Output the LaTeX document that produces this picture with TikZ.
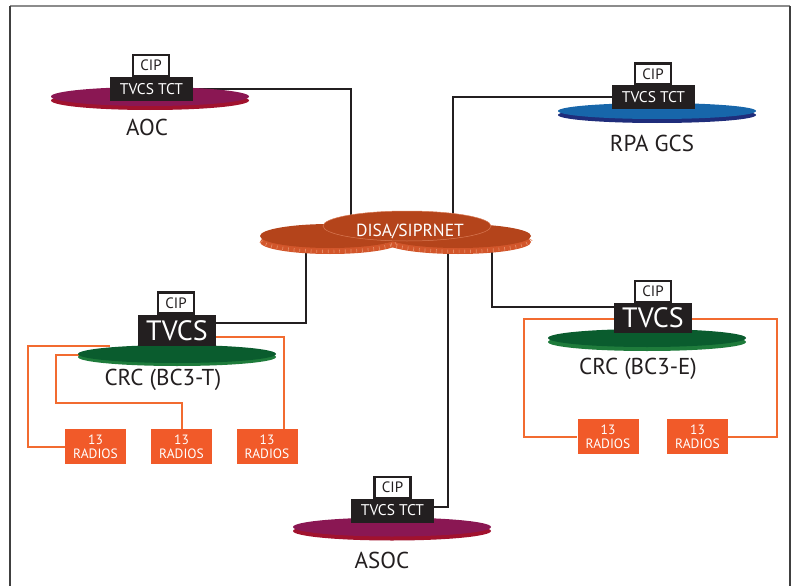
\documentclass[tikz,border=0pt]{standalone}
\usepackage{fontspec}
\setmainfont{PT Sans}
\usetikzlibrary{shapes.geometric}
\definecolor{ink}{HTML}{231F20}
\definecolor{aoctop}{HTML}{8A1753}
\definecolor{aocrim}{HTML}{A1122E}
\definecolor{rpatop}{HTML}{1766AA}
\definecolor{rparim}{HTML}{1F2D7B}
\definecolor{crctop}{HTML}{0A5C2E}
\definecolor{crcrim}{HTML}{1E7B3B}
\definecolor{cloudtop}{HTML}{B4441B}
\definecolor{cloudrim}{HTML}{D2562B}
\definecolor{cloudtick}{HTML}{E58A64}
\definecolor{cloudedge}{HTML}{D97A55}
\definecolor{radio}{HTML}{F15A29}
\definecolor{radioline}{HTML}{F26B30}
\pgfdeclarelayer{bg}
\pgfsetlayers{bg,main}
\tikzset{
 disk/.style={ellipse, minimum width=198pt, minimum height=18pt, inner sep=0pt},
 cipbox/.style={draw=ink, line width=2.5pt, fill=white, minimum width=36pt, minimum height=21pt, inner sep=0pt, font=\fontsize{15}{15}\selectfont, text=ink},
 tctbox/.style={fill=ink, text=white, minimum width=83pt, minimum height=24pt, inner sep=0pt, font=\fontsize{15.5}{15.5}\selectfont},
 tvcsbox/.style={fill=ink, text=white, minimum width=78pt, minimum height=31pt, inner sep=0pt, font=\fontsize{28}{28}\selectfont},
 radiobox/.style={fill=radio, text=white, minimum width=61pt, minimum height=35pt, inner sep=0pt, align=center, font=\fontsize{13.5}{14}\selectfont},
 lbl/.style={text=ink, font=\fontsize{23}{23}\selectfont, inner sep=0pt},
 net/.style={draw=ink, line width=2pt},
 rline/.style={draw=radioline, line width=2pt},
}
\begin{document}
\begin{tikzpicture}[x=1pt,y=-1pt]
\useasboundingbox (0,0) rectangle (793,586);
% frame
\draw[line width=1.5pt, draw=black!45] (10,6) -- (790,6);
\draw[line width=1.5pt, draw=black!75] (10,586) -- (10,6);
\draw[line width=1.5pt, draw=black!75] (790,6) -- (790,586);

% ---- cloud
\fill[cloudrim] (330,242) ellipse (70 and 12);
\fill[cloudrim] (458,242) ellipse (73 and 12);
\draw[cloudtick, line width=3.5pt, dash pattern=on 0.7pt off 5pt] (400,239.5) arc (0:180:70 and 12);
\draw[cloudtick, line width=3.5pt, dash pattern=on 0.7pt off 5pt] (531,239.5) arc (0:180:73 and 12);
\fill[cloudtop] (330,236) ellipse (70 and 12);
\fill[cloudtop] (458,236) ellipse (73 and 12);
\node[ellipse, minimum width=168pt, minimum height=30pt, inner sep=0pt, fill=cloudtop, draw=cloudedge, line width=0.5pt] (cloud) at (407,226) {};
\node[text=white, font=\fontsize{17.5}{17.5}\selectfont, inner sep=0pt] (cloudtxt) at (410,231) {DISA/SIPRNET};

% ---- AOC
\fill[aocrim] (150,100.5) ellipse (99 and 9.5);
\node[disk, minimum height=19pt, fill=aoctop] (aocdisk) at (150,96.5) {};
\node[tctbox] (aoctct) at (151.5,89) {TVCS TCT};
\node[cipbox] (aoccip) at (151,65.5) {CIP};
\node[lbl] (aoclbl) at (147,127) {AOC};

% ---- RPA GCS
\fill[rparim] (657,115) ellipse (99 and 8);
\node[disk, minimum height=16pt, fill=rpatop] (rpadisk) at (657,111) {};
\node[tctbox] (rpatct) at (653.5,97) {TVCS TCT};
\node[cipbox] (rpacip) at (653,74) {CIP};
\node[lbl] (rpalbl) at (652,143) {RPA GCS};

% ---- CRC (BC3-T)
\fill[crcrim] (177,357) ellipse (99 and 9);
\node[disk, fill=crctop] (crcTdisk) at (177,354) {};
\node[tvcsbox] (crcTtvcs) at (177,330.5) {TVCS};
\node[cipbox] (crcTcip) at (176,303) {CIP};
\node[lbl] (crcTlbl) at (163,380) {CRC (BC3-T)};
\node[radiobox] (r1) at (95.5,446.5) {13\\RADIOS};
\node[radiobox] (r2) at (181.5,446.5) {13\\RADIOS};
\node[radiobox] (r3) at (267,446.5) {13\\RADIOS};

% ---- CRC (BC3-E)
\fill[crcrim] (647,342) ellipse (99 and 9);
\node[disk, fill=crctop] (crcEdisk) at (647,338) {};
\node[tvcsbox, minimum height=30pt] (crcEtvcs) at (653,318) {TVCS};
\node[cipbox] (crcEcip) at (653,291.5) {CIP};
\node[lbl] (crcElbl) at (638,369) {CRC (BC3-E)};
\node[radiobox] (r4) at (608,436.5) {13\\RADIOS};
\node[radiobox] (r5) at (697.5,436.5) {13\\RADIOS};

% ---- ASOC
\fill[aocrim] (392,531) ellipse (99 and 9.5);
\node[disk, minimum height=19pt, fill=aoctop] (asocdisk) at (392,527) {};
\node[tctbox] (asoctct) at (392.5,510.5) {TVCS TCT};
\node[cipbox] (asoccip) at (392.5,487.5) {CIP};
\node[lbl] (asoclbl) at (382,560) {ASOC};

% ---- connector ends hidden behind shapes
\coordinate (caoc) at (351,232);
\coordinate (crpa) at (453,232);
\coordinate (ccrcT) at (306,240);
\coordinate (ccrcE) at (492,240);
\coordinate (casoc) at (448,240);
\coordinate (crcTa) at (110,346);
\coordinate (crcTb) at (90,355);

\begin{pgfonlayer}{bg}
\draw[net] (aoctct.east) -| (caoc);
\draw[net] (rpatct.west) -| (crpa);
\draw[net] ([yshift=8pt]crcTtvcs.east) -| (ccrcT);
\draw[net] ([yshift=11pt]crcEtvcs.west) -| (ccrcE);
\draw[net] ([yshift=4pt]asoctct.east) -| (casoc);
\draw[rline] (crcTa) -- (28,346) |- (r1.west);
\draw[rline] (crcTb) -- (56,355) -- (56,403) -| (r2.north);
\draw[rline] ([yshift=-6pt]crcTtvcs.east) -| ([xshift=17pt]r3.north);
\draw[rline] ([yshift=-1pt]crcEtvcs.west) -- (524,319) |- (r4.west);
\draw[rline] ([yshift=-1pt]crcEtvcs.east) -- (777,319) |- (r5.east);
\end{pgfonlayer}
\end{tikzpicture}
\end{document}
